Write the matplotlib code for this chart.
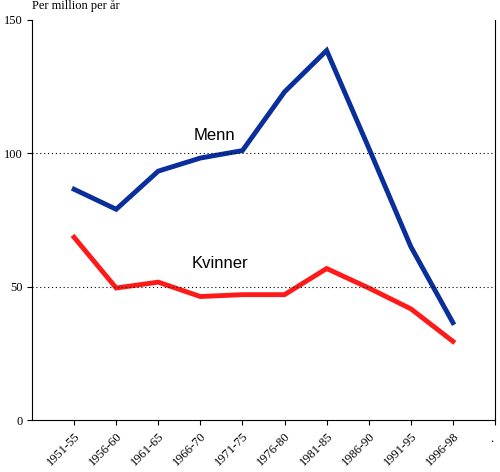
import matplotlib.pyplot as plt

periods = ['1951-55', '1956-60', '1961-65', '1966-70', '1971-75',
           '1976-80', '1981-85', '1986-90', '1991-95', '1996-98']
menn = [86.5, 79, 93.3, 98.2, 101, 123, 138.5, 102, 65, 36.5]
kvinner = [68.5, 49.5, 51.7, 46.3, 47, 47, 56.8, 49.5, 41.7, 29.5]

plt.rcParams['font.family'] = ['Liberation Serif', 'DejaVu Serif']

fig = plt.figure(figsize=(5.0, 4.72), dpi=100)
ax = fig.add_axes([0.064, 0.11, 0.926, 0.848])

x = list(range(len(periods)))
ax.plot(x, menn, color='#0a2f9c', lw=3.5, solid_joinstyle='miter')
ax.plot(x, kvinner, color='#ff1a1a', lw=3.5, solid_joinstyle='miter')

for yv in (50, 100):
    ax.axhline(yv, color='black', lw=0.8, ls=(0, (1, 2.5)))

ax.text(2.85, 105, 'Menn', fontsize=12, family=['Liberation Sans', 'DejaVu Sans'])
ax.text(2.8, 57, 'Kvinner', fontsize=12, family=['Liberation Sans', 'DejaVu Sans'])

ax.set_xlim(-1, 10)
ax.set_ylim(0, 150)
ax.set_yticks([0, 50, 100, 150])
ax.set_xticks(x + [10])
ax.set_xticklabels(periods + [''], rotation=45, ha='right', rotation_mode='anchor', fontsize=9)
ax.text(9.97, -5, '.', fontsize=9, ha='right', va='top')
ax.tick_params(axis='y', labelsize=9)
ax.spines['top'].set_visible(False)
ax.text(-1, 153, 'Per million per år', fontsize=9, ha='left', va='bottom')

fig.savefig('out.png', dpi=100)
